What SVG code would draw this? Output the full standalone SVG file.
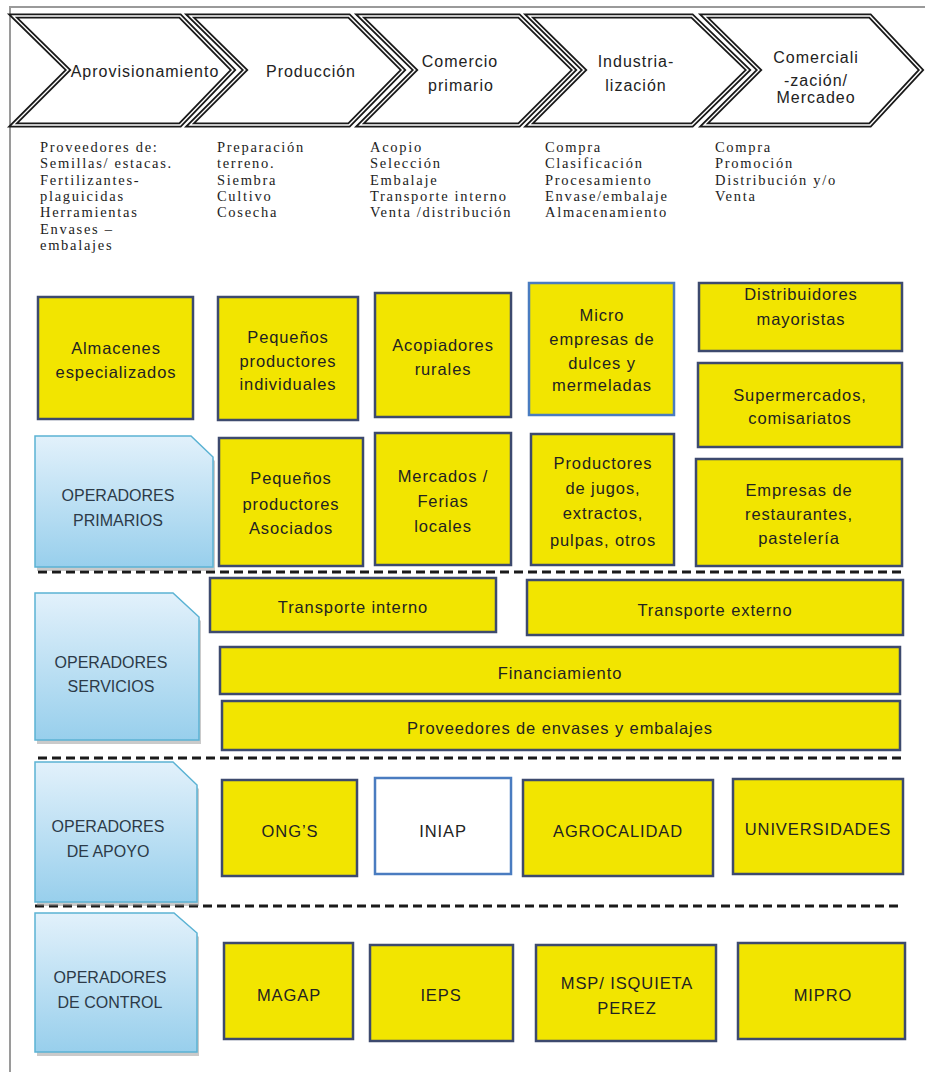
<svg xmlns="http://www.w3.org/2000/svg" width="925" height="1072" viewBox="0 0 925 1072">
<defs>
<linearGradient id="tabGrad" x1="0" y1="0" x2="0" y2="1">
<stop offset="0" stop-color="#E2F1FB"/>
<stop offset="1" stop-color="#98CFEC"/>
</linearGradient>
<style>
.chev-o{fill:#fff;stroke:#1a1a1a;stroke-width:5;stroke-linejoin:miter}
.chev-i{fill:none;stroke:#fff;stroke-width:1.4;stroke-linejoin:miter}
.chev-t{font-family:"Liberation Sans",Arial,sans-serif;font-size:16px;letter-spacing:1px;fill:#222;text-anchor:middle}
.col{font-family:"Liberation Serif","Times New Roman",serif;font-size:14.5px;letter-spacing:1.7px;fill:#222}
.box{fill:#F2E500;stroke:#3D4A6E;stroke-width:2.5}
.boxb{fill:#F2E500;stroke:#4A7CC0;stroke-width:2.5}
.boxw{fill:#fff;stroke:#4A7CC0;stroke-width:2.5}
.bt{font-family:"Liberation Sans",Arial,sans-serif;font-size:16.5px;letter-spacing:0.9px;fill:#222;text-anchor:middle}
.tab{fill:url(#tabGrad);stroke:#5BB3D4;stroke-width:1.5}
.tabsh{fill:#8a8a8a;opacity:0.45}
.tt{font-family:"Liberation Sans",Arial,sans-serif;font-size:16px;fill:#2C3A48;text-anchor:middle}
.sep{stroke:#1a1a1a;stroke-width:3;stroke-dasharray:9 5;fill:none}
.frame{stroke:#9a9a9a;stroke-width:2;fill:none}
</style>
</defs>
<rect x="0" y="0" width="925" height="1072" fill="#fff"/>
<path class="frame" d="M10,1072 V7 H925"/>

<g id="chevrons">
<g id="chev-aprovisionamiento">
<polygon class="chev-o" points="13,16 180,16 233,70 180,125 13,125 68,70"/>
<polygon class="chev-i" points="13,16 180,16 233,70 180,125 13,125 68,70"/>
<text class="chev-t" x="145" y="77">Aprovisionamiento</text>
</g>
<g id="chev-produccion">
<polygon class="chev-o" points="190,16 349,16 403,70 349,125 190,125 245,70"/>
<polygon class="chev-i" points="190,16 349,16 403,70 349,125 190,125 245,70"/>
<text class="chev-t" x="311" y="77">Producción</text>
</g>
<g id="chev-comercio">
<polygon class="chev-o" points="360,16 519,16 574,70 519,125 360,125 415,70"/>
<polygon class="chev-i" points="360,16 519,16 574,70 519,125 360,125 415,70"/>
<text class="chev-t" x="460" y="67">Comercio</text>
<text class="chev-t" x="461" y="91">primario</text>
</g>
<g id="chev-industrializacion">
<polygon class="chev-o" points="529,16 692,16 748,70 692,125 529,125 584,70"/>
<polygon class="chev-i" points="529,16 692,16 748,70 692,125 529,125 584,70"/>
<text class="chev-t" x="636" y="67">Industria-</text>
<text class="chev-t" x="636" y="91">lización</text>
</g>
<g id="chev-comercializacion">
<polygon class="chev-o" points="704,16 870,16 921,70 870,125 704,125 759,70"/>
<polygon class="chev-i" points="704,16 870,16 921,70 870,125 704,125 759,70"/>
<text class="chev-t" x="816" y="63">Comerciali</text>
<text class="chev-t" x="816" y="86">-zación/</text>
<text class="chev-t" x="816" y="103">Mercadeo</text>
</g>
</g>

<g id="activities">
<text class="col" x="40" y="152">Proveedores de:</text>
<text class="col" x="40" y="168.3">Semillas/  estacas.</text>
<text class="col" x="40" y="184.6">Fertilizantes-</text>
<text class="col" x="40" y="200.9">plaguicidas</text>
<text class="col" x="40" y="217.2">Herramientas</text>
<text class="col" x="40" y="233.5">Envases –</text>
<text class="col" x="40" y="249.8">embalajes</text>

<text class="col" x="217" y="152">Preparación</text>
<text class="col" x="217" y="168.3">terreno.</text>
<text class="col" x="217" y="184.6">Siembra</text>
<text class="col" x="217" y="200.9">Cultivo</text>
<text class="col" x="217" y="217.2">Cosecha</text>

<text class="col" x="370" y="152">Acopio</text>
<text class="col" x="370" y="168.3">Selección</text>
<text class="col" x="370" y="184.6">Embalaje</text>
<text class="col" x="370" y="200.9">Transporte interno</text>
<text class="col" x="370" y="217.2">Venta /distribución</text>

<text class="col" x="545" y="152">Compra</text>
<text class="col" x="545" y="168.3">Clasificación</text>
<text class="col" x="545" y="184.6">Procesamiento</text>
<text class="col" x="545" y="200.9">Envase/embalaje</text>
<text class="col" x="545" y="217.2">Almacenamiento</text>

<text class="col" x="715" y="152">Compra</text>
<text class="col" x="715" y="168.3">Promoción</text>
<text class="col" x="715" y="184.6">Distribución y/o</text>
<text class="col" x="715" y="200.9">Venta</text>
</g>

<g id="separators">
<line class="sep" x1="38" y1="572" x2="903" y2="572"/>
<line class="sep" x1="38" y1="758" x2="903" y2="758"/>
<line class="sep" x1="35" y1="906" x2="903" y2="906"/>
</g>

<g id="tab-primarios">
<path class="tabsh" d="M37,440 H193 L215,461 V571 H37 Z"/>
<path class="tab" d="M35,436 H191 L213,457 V567 H35 Z"/>
<text class="tt" x="118" y="501">OPERADORES</text>
<text class="tt" x="118" y="526">PRIMARIOS</text>
</g>
<g id="tab-servicios">
<path class="tabsh" d="M37,597 H175 L201,621 V744 H37 Z"/>
<path class="tab" d="M35,593 H173 L199,617 V740 H35 Z"/>
<text class="tt" x="111" y="668">OPERADORES</text>
<text class="tt" x="111" y="692">SERVICIOS</text>
</g>
<g id="tab-apoyo">
<path class="tabsh" d="M37,766 H175 L199,789 V906 H37 Z"/>
<path class="tab" d="M35,762 H173 L197,785 V902 H35 Z"/>
<text class="tt" x="108" y="832">OPERADORES</text>
<text class="tt" x="108" y="857">DE APOYO</text>
</g>
<g id="tab-control">
<path class="tabsh" d="M37,917 H176 L199,937 V1056 H37 Z"/>
<path class="tab" d="M35,913 H174 L197,933 V1052 H35 Z"/>
<text class="tt" x="110" y="983">OPERADORES</text>
<text class="tt" x="110" y="1008">DE CONTROL</text>
</g>

<g id="n-almacenes">
<rect class="box" x="38" y="297" width="155" height="122"/>
<text class="bt" x="116" y="354">Almacenes</text>
<text class="bt" x="116" y="378">especializados</text>
</g>
<g id="n-pequenos-individuales">
<rect class="box" x="218" y="297" width="140" height="123"/>
<text class="bt" x="288" y="343">Pequeños</text>
<text class="bt" x="288" y="367">productores</text>
<text class="bt" x="288" y="390">individuales</text>
</g>
<g id="n-acopiadores">
<rect class="box" x="375" y="293" width="136" height="124"/>
<text class="bt" x="443" y="351">Acopiadores</text>
<text class="bt" x="443" y="375">rurales</text>
</g>
<g id="n-micro">
<rect class="boxb" x="529" y="283" width="145" height="132"/>
<text class="bt" x="602" y="321">Micro</text>
<text class="bt" x="602" y="345">empresas de</text>
<text class="bt" x="602" y="369">dulces y</text>
<text class="bt" x="602" y="391">mermeladas</text>
</g>
<g id="n-distribuidores">
<rect class="box" x="699" y="283" width="203" height="68"/>
<text class="bt" x="801" y="300">Distribuidores</text>
<text class="bt" x="801" y="325">mayoristas</text>
</g>
<g id="n-supermercados">
<rect class="box" x="698" y="363" width="204" height="84"/>
<text class="bt" x="800" y="401">Supermercados,</text>
<text class="bt" x="800" y="424">comisariatos</text>
</g>
<g id="n-empresas-restaurantes">
<rect class="box" x="696" y="459" width="206" height="107"/>
<text class="bt" x="799" y="496">Empresas de</text>
<text class="bt" x="799" y="520">restaurantes,</text>
<text class="bt" x="799" y="544">pastelería</text>
</g>
<g id="n-pequenos-asociados">
<rect class="box" x="219" y="438" width="144" height="128"/>
<text class="bt" x="291" y="484">Pequeños</text>
<text class="bt" x="291" y="510">productores</text>
<text class="bt" x="291" y="534">Asociados</text>
</g>
<g id="n-mercados">
<rect class="box" x="375" y="433" width="136" height="132"/>
<text class="bt" x="443" y="482">Mercados /</text>
<text class="bt" x="443" y="507">Ferias</text>
<text class="bt" x="443" y="532">locales</text>
</g>
<g id="n-productores-jugos">
<rect class="box" x="531" y="434" width="143" height="131"/>
<text class="bt" x="603" y="469">Productores</text>
<text class="bt" x="603" y="494">de jugos,</text>
<text class="bt" x="603" y="519">extractos,</text>
<text class="bt" x="603" y="546">pulpas, otros</text>
</g>

<g id="n-transporte-interno">
<rect class="box" x="210" y="578" width="286" height="54"/>
<text class="bt" x="353" y="613">Transporte interno</text>
</g>
<g id="n-transporte-externo">
<rect class="box" x="527" y="580" width="376" height="55"/>
<text class="bt" x="715" y="616">Transporte  externo</text>
</g>
<g id="n-financiamiento">
<rect class="box" x="220" y="647" width="680" height="47"/>
<text class="bt" x="560" y="679">Financiamiento</text>
</g>
<g id="n-proveedores-envases">
<rect class="box" x="222" y="701" width="678" height="49"/>
<text class="bt" x="560" y="734">Proveedores  de envases y embalajes</text>
</g>

<g id="n-ongs">
<rect class="box" x="222" y="780" width="135" height="96"/>
<text class="bt" x="290" y="837">ONG’S</text>
</g>
<g id="n-iniap">
<rect class="boxw" x="375" y="778" width="136" height="96"/>
<text class="bt" x="443" y="837">INIAP</text>
</g>
<g id="n-agrocalidad">
<rect class="box" x="523" y="780" width="190" height="96"/>
<text class="bt" x="618" y="837">AGROCALIDAD</text>
</g>
<g id="n-universidades">
<rect class="box" x="733" y="779" width="170" height="95"/>
<text class="bt" x="818" y="835">UNIVERSIDADES</text>
</g>

<g id="n-magap">
<rect class="box" x="224" y="943" width="129" height="96"/>
<text class="bt" x="289" y="1001">MAGAP</text>
</g>
<g id="n-ieps">
<rect class="box" x="370" y="945" width="143" height="96"/>
<text class="bt" x="441" y="1001">IEPS</text>
</g>
<g id="n-msp">
<rect class="box" x="536" y="945" width="180" height="96"/>
<text class="bt" x="627" y="989">MSP/ ISQUIETA</text>
<text class="bt" x="627" y="1014">PEREZ</text>
</g>
<g id="n-mipro">
<rect class="box" x="738" y="943" width="167" height="96"/>
<text class="bt" x="823" y="1001">MIPRO</text>
</g>
</svg>
